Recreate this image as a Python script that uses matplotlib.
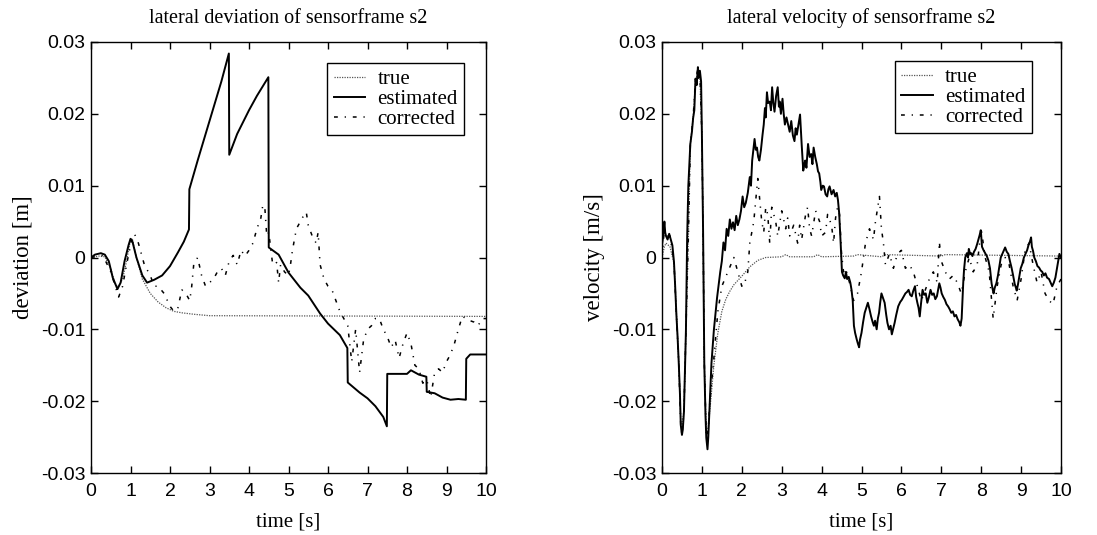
import matplotlib
matplotlib.use("Agg")
import matplotlib.pyplot as plt

# ---------------- data: lateral deviation ----------------
t_dev_true = [0, 0.2, 0.35, 0.5, 0.6, 0.68, 0.8, 0.9, 1.0, 1.05, 1.15, 1.3, 1.5, 1.7,
              1.9, 2.1, 2.3, 2.6, 3.0, 10]
dev_true = [0, 0.0002, 0.0001, -0.0015, -0.0035, -0.0042, -0.003, -0.0005, 0.0025, 0.0025,
            0.0, -0.0030, -0.0050, -0.0062, -0.0070, -0.0075, -0.0077, -0.0079, -0.0081, -0.0082]

t_dev_est = [0, 0.1, 0.25, 0.35, 0.45, 0.55, 0.67, 0.75, 0.85, 0.95, 1.0, 1.05, 1.15, 1.3,
             1.42, 1.6, 1.8, 2.0, 2.2, 2.35, 2.48, 2.49, 2.7, 3.0, 3.3, 3.49, 3.5, 3.7,
             4.0, 4.2, 4.49, 4.5, 4.6, 4.75, 5.0, 5.3, 5.5, 5.8, 6.0, 6.3, 6.49, 6.5,
             6.8, 7.0, 7.2, 7.4, 7.49, 7.5, 8.0, 8.1, 8.3, 8.49, 8.5, 8.7, 8.9, 9.1,
             9.3, 9.49, 9.5, 9.6, 10]
dev_est = [0, 0.0004, 0.0006, 0.0004, -0.0005, -0.0028, -0.0044, -0.0035, -0.0005, 0.0017,
           0.0026, 0.0022, 0.0, -0.0025, -0.0035, -0.0031, -0.0025, -0.0012, 0.0007, 0.0022,
           0.0039, 0.0095, 0.0135, 0.019, 0.0245, 0.0284, 0.0143, 0.0172, 0.0205, 0.0225,
           0.0251, 0.0014, 0.0010, 0.0004, -0.0021, -0.0042, -0.0053, -0.0078, -0.0092,
           -0.0108, -0.0126, -0.0174, -0.0188, -0.0196, -0.0207, -0.0222, -0.0235, -0.0162,
           -0.0162, -0.0157, -0.0163, -0.0166, -0.0187, -0.0189, -0.0195, -0.0198, -0.0197,
           -0.0198, -0.0141, -0.0135, -0.0135]

t_dev_cor = [0, 0.3, 0.5, 0.7, 0.8, 0.9, 1.05, 1.1, 1.2, 1.35, 1.5, 1.6, 1.7, 1.85, 2.0,
             2.1, 2.2, 2.3, 2.4, 2.5, 2.55, 2.6, 2.7, 2.8, 2.9, 3.0, 3.1, 3.2, 3.3, 3.4,
             3.5, 3.6, 3.7, 3.8, 3.9, 4.0, 4.1, 4.2, 4.3, 4.35, 4.4, 4.45, 4.5, 4.6, 4.7,
             4.75, 4.8, 4.9, 5.0, 5.05, 5.1, 5.2, 5.3, 5.4, 5.45, 5.5, 5.6, 5.7, 5.75,
             5.8, 5.9, 6.0, 6.1, 6.2, 6.3, 6.4, 6.5, 6.6, 6.7, 6.8, 6.9, 7.0, 7.1, 7.2,
             7.3, 7.4, 7.5, 7.6, 7.7, 7.8, 7.9, 8.0, 8.1, 8.2, 8.3, 8.4, 8.5, 8.6, 8.7,
             8.8, 8.9, 9.0, 9.1, 9.2, 9.3, 9.4, 9.5, 9.6, 9.7, 9.8, 9.9, 10]
dev_cor = [0, 0.0003, -0.002, -0.0055, -0.004, -0.001, 0.003, 0.0033, 0.002, -0.001,
           -0.0025, -0.004, -0.004, -0.005, -0.0068, -0.0075, -0.007, -0.0045, -0.005,
           -0.006, -0.004, -0.001, 0.0, -0.0025, -0.004, -0.0035, -0.003, -0.002, -0.0015,
           -0.0025, -0.0005, 0.0003, -0.001, 0.001, 0.0002, 0.001, 0.002, 0.004, 0.0055,
           0.0073, 0.007, 0.003, 0.0035, -0.001, -0.0007, -0.0035, -0.001, -0.002, -0.0025,
           -0.001, 0.001, 0.004, 0.005, 0.006, 0.0063, 0.0045, 0.003, 0.002, 0.0035, -0.001,
           -0.003, -0.004, -0.0045, -0.006, -0.0075, -0.0085, -0.0095, -0.0145, -0.010,
           -0.016, -0.0115, -0.010, -0.0095, -0.0085, -0.0085, -0.010, -0.011, -0.0125,
           -0.0115, -0.014, -0.012, -0.0105, -0.012, -0.015, -0.0155, -0.0175, -0.017,
           -0.0195, -0.016, -0.0155, -0.016, -0.0145, -0.0135, -0.012, -0.010, -0.0082,
           -0.0085, -0.0088, -0.009, -0.0095, -0.0085, -0.0085]

# ---------------- data: lateral velocity ----------------
t_vel_true = [0, 0.06, 0.1, 0.2, 0.3, 0.36, 0.42, 0.47, 0.5, 0.55, 0.6, 0.66, 0.71, 0.78,
              0.84, 0.9, 0.95, 1.0, 1.03, 1.06, 1.11, 1.16, 1.22, 1.3, 1.4, 1.5, 1.6, 1.7,
              1.8, 2.0, 2.2, 2.4, 2.6, 3.0, 3.1, 3.2, 3.8, 3.9, 4.0, 4.8, 4.9, 5.5, 5.6,
              7.0, 7.1, 10]
vel_true = [0, 0.0015, 0.002, 0.0015, -0.0008, -0.0075, -0.0145, -0.0228, -0.0242, -0.021,
            -0.0101, 0.0026, 0.0158, 0.0194, 0.0245, 0.0258, 0.0252, 0.0171, 0.0035,
            -0.0147, -0.0240, -0.0235, -0.0200, -0.0150, -0.0105, -0.0075, -0.0058,
            -0.0047, -0.0038, -0.0026, -0.0013, -0.0004, 0.0, 0.0001, 0.0004, 0.0001,
            0.0001, 0.0004, 0.0001, 0.0002, 0.0004, 0.0001, 0.0004, 0.0002, 0.0004, 0.0002]

t_vel_est = [0, 0.03, 0.06, 0.08, 0.1, 0.14, 0.18, 0.22, 0.26, 0.3, 0.33, 0.36, 0.39,
             0.42, 0.45, 0.47, 0.5, 0.52, 0.55, 0.6, 0.63, 0.66, 0.71, 0.75, 0.78, 0.81,
             0.84, 0.87, 0.9, 0.92, 0.95, 0.98, 1.0, 1.03, 1.06, 1.09, 1.11, 1.14, 1.16,
             1.19, 1.24, 1.3, 1.38, 1.46, 1.5, 1.54, 1.58, 1.62, 1.66, 1.7, 1.74, 1.78,
             1.82, 1.86, 1.9, 1.94, 1.98, 2.02, 2.06, 2.1, 2.15, 2.2, 2.23, 2.26, 2.29,
             2.32, 2.35, 2.38, 2.41, 2.44, 2.48, 2.52, 2.55, 2.58, 2.6, 2.63, 2.66, 2.7,
             2.73, 2.76, 2.79, 2.82, 2.86, 2.9, 2.93, 2.95, 2.98, 3.02, 3.05, 3.08, 3.12,
             3.16, 3.2, 3.24, 3.28, 3.32, 3.35, 3.38, 3.42, 3.46, 3.5, 3.54, 3.57, 3.59,
             3.62, 3.66, 3.7, 3.74, 3.77, 3.8, 3.84, 3.88, 3.91, 3.94, 3.97, 3.99, 4.03,
             4.06, 4.1, 4.14, 4.17, 4.2, 4.25, 4.3, 4.34, 4.38, 4.41, 4.44, 4.46, 4.48,
             4.51, 4.54, 4.58, 4.61, 4.64, 4.68, 4.72, 4.75, 4.78, 4.81, 4.84, 4.88, 4.91,
             4.94, 4.96, 5.0, 5.04, 5.08, 5.12, 5.16, 5.2, 5.24, 5.28, 5.31, 5.34, 5.38,
             5.41, 5.44, 5.47, 5.5, 5.53, 5.58, 5.62, 5.65, 5.69, 5.73, 5.76, 5.79, 5.83,
             5.87, 5.92, 5.97, 6.01, 6.05, 6.1, 6.14, 6.18, 6.22, 6.26, 6.3, 6.34, 6.37,
             6.4, 6.43, 6.46, 6.49, 6.53, 6.57, 6.61, 6.65, 6.69, 6.73, 6.77, 6.81, 6.85,
             6.89, 6.92, 6.95, 6.98, 7.01, 7.05, 7.09, 7.13, 7.17, 7.21, 7.25, 7.29, 7.33,
             7.37, 7.41, 7.45, 7.48, 7.51, 7.53, 7.55, 7.57, 7.6, 7.64, 7.67, 7.69, 7.72,
             7.75, 7.78, 7.82, 7.86, 7.9, 7.93, 7.96, 7.99, 8.02, 8.06, 8.1, 8.14, 8.18,
             8.22, 8.26, 8.29, 8.31, 8.34, 8.38, 8.42, 8.45, 8.49, 8.53, 8.57, 8.6, 8.64,
             8.68, 8.72, 8.76, 8.8, 8.84, 8.87, 8.89, 8.92, 8.95, 8.99, 9.03, 9.07, 9.11,
             9.15, 9.19, 9.22, 9.25, 9.27, 9.3, 9.33, 9.37, 9.41, 9.45, 9.49, 9.53, 9.57,
             9.61, 9.65, 9.7, 9.74, 9.78, 9.82, 9.86, 9.9, 9.93, 9.96, 10]
vel_est = [0.0017, 0.003, 0.005, 0.0035, 0.003, 0.0025, 0.0033, 0.0025, 0.0017, -0.0006,
           -0.004, -0.0079, -0.011, -0.0147, -0.019, -0.0233, -0.0247, -0.0240, -0.0215,
           -0.0101, 0.0026, 0.0100, 0.0158, 0.0175, 0.0194, 0.0205, 0.0249, 0.0240, 0.0265,
           0.0250, 0.0260, 0.0245, 0.0171, 0.0035, -0.0147, -0.0220, -0.0251, -0.0267,
           -0.0250, -0.0212, -0.0147, -0.0101, -0.0056, -0.0020, -0.0005, 0.0021, 0.0010,
           0.0040, 0.0030, 0.0053, 0.0040, 0.0049, 0.0038, 0.0058, 0.0045, 0.0053, 0.0065,
           0.0085, 0.0070, 0.0076, 0.0090, 0.0112, 0.0100, 0.0135, 0.0150, 0.0165, 0.0150,
           0.0153, 0.0140, 0.0135, 0.0150, 0.0171, 0.0185, 0.0208, 0.0195, 0.0230, 0.0215,
           0.0217, 0.0205, 0.0237, 0.0215, 0.0203, 0.0225, 0.0237, 0.0210, 0.0217, 0.0200,
           0.0221, 0.0200, 0.0185, 0.0195, 0.0185, 0.0175, 0.0190, 0.0170, 0.0162, 0.0180,
           0.0171, 0.0185, 0.0199, 0.0158, 0.0121, 0.0130, 0.0135, 0.0125, 0.0158, 0.0140,
           0.0144, 0.0130, 0.0153, 0.0140, 0.0130, 0.0120, 0.0117, 0.0105, 0.0094, 0.0100,
           0.0099, 0.0088, 0.0085, 0.0095, 0.0099, 0.0088, 0.0094, 0.0085, 0.0090, 0.0080,
           0.0062, 0.0040, 0.0017, -0.0020, -0.0025, -0.0029, -0.0020, -0.0030, -0.0027,
           -0.0035, -0.0045, -0.0060, -0.0095, -0.0105, -0.0114, -0.0120, -0.0125, -0.0115,
           -0.0105, -0.0090, -0.0077, -0.0070, -0.0063, -0.0072, -0.0082, -0.0090, -0.0095,
           -0.0088, -0.0100, -0.0085, -0.0077, -0.0062, -0.0050, -0.0055, -0.0063, -0.0080,
           -0.0091, -0.0100, -0.0095, -0.0107, -0.0100, -0.0091, -0.0080, -0.0068, -0.0062,
           -0.0059, -0.0055, -0.0050, -0.0048, -0.0045, -0.0052, -0.0054, -0.0046, -0.0040,
           -0.0055, -0.0063, -0.0070, -0.0082, -0.0065, -0.0045, -0.0052, -0.0050, -0.0063,
           -0.0055, -0.0045, -0.0052, -0.0050, -0.0058, -0.0054, -0.0045, -0.0036, -0.0042,
           -0.0050, -0.0055, -0.0059, -0.0065, -0.0068, -0.0072, -0.0077, -0.0075, -0.0082,
           -0.0080, -0.0086, -0.0090, -0.0095, -0.0085, -0.0059, -0.0035, -0.0017, 0.0,
           0.0006, 0.0000, 0.0012, 0.0005, 0.0006, 0.0002, 0.0008, 0.0012, 0.0019, 0.0025,
           0.0031, 0.0038, 0.0015, 0.0010, 0.0006, 0.0002, -0.0004, -0.0015, -0.0036,
           -0.0045, -0.0050, -0.0042, -0.0036, -0.0025, -0.0014, 0.0000, 0.0005, 0.0010,
           0.0014, 0.0008, 0.0005, -0.0005, -0.0014, -0.0025, -0.0037, -0.0042, -0.0046,
           -0.0038, -0.0028, -0.0015, -0.0009, 0.0000, 0.0005, 0.0010, 0.0018, 0.0022,
           0.0028, 0.0015, 0.0009, 0.0000, -0.0005, -0.0012, -0.0014, -0.0018, -0.0020,
           -0.0025, -0.0022, -0.0028, -0.0030, -0.0035, -0.0040, -0.0035, -0.0028, -0.0015,
           -0.0005, 0.0005, 0.0000]

t_vel_cor = [0, 0.06, 0.1, 0.2, 0.3, 0.36, 0.42, 0.47, 0.5, 0.55, 0.6, 0.66, 0.71, 0.78,
             0.84, 0.9, 0.95, 1.0, 1.03, 1.06, 1.11, 1.16, 1.2, 1.3, 1.4, 1.5, 1.65, 1.8,
             1.9, 2.0, 2.05, 2.15, 2.2, 2.3, 2.4, 2.45, 2.5, 2.55, 2.6, 2.65, 2.7, 2.75,
             2.85, 2.9, 3.0, 3.1, 3.15, 3.2, 3.3, 3.4, 3.45, 3.5, 3.6, 3.65, 3.7, 3.75,
             3.85, 3.95, 4.0, 4.1, 4.15, 4.25, 4.3, 4.35, 4.4, 4.45, 4.5, 4.55, 4.6, 4.7,
             4.8, 4.9, 5.0, 5.1, 5.2, 5.3, 5.35, 5.45, 5.5, 5.55, 5.6, 5.7, 5.8, 5.9, 6.0,
             6.1, 6.2, 6.3, 6.4, 6.5, 6.6, 6.7, 6.8, 6.9, 6.95, 7.0, 7.1, 7.2, 7.3, 7.4,
             7.5, 7.6, 7.7, 7.8, 7.9, 8.0, 8.1, 8.2, 8.3, 8.4, 8.5, 8.6, 8.7, 8.8, 8.9,
             9.0, 9.1, 9.2, 9.3, 9.4, 9.5, 9.6, 9.7, 9.8, 9.9, 10]
vel_cor = [0, 0.004, 0.003, 0.003, -0.0006, -0.0079, -0.0147, -0.0233, -0.0247, -0.0215,
           -0.0101, 0.0026, 0.0158, 0.0194, 0.0249, 0.0262, 0.0255, 0.0171, 0.0035, -0.0147,
           -0.0250, -0.0240, -0.0200, -0.0140, -0.0075, -0.0040, -0.0020, 0.0, -0.0020,
           -0.0040, -0.0040, -0.0020, 0.0020, 0.0050, 0.0110, 0.0080, 0.0050, 0.0035, 0.0070,
           0.0060, 0.0020, 0.0070, 0.0050, 0.0030, 0.0065, 0.0040, 0.0055, 0.0030, 0.0045,
           0.0020, 0.0045, 0.0025, 0.0060, 0.0070, 0.0040, 0.0030, 0.0065, 0.0050, 0.0030,
           0.0035, 0.0060, 0.0045, 0.0020, 0.0055, 0.0070, 0.0060, 0.0005, -0.0020, -0.0015,
           -0.0035, -0.0060, -0.0050, -0.0020, 0.0020, 0.0040, 0.0025, 0.0050, 0.0085,
           0.0040, 0.0020, -0.0010, 0.0005, -0.0015, 0.0005, 0.0010, -0.0015, -0.0010,
           -0.0020, -0.0040, -0.0060, -0.0045, -0.0030, -0.0020, -0.0035, 0.0022, -0.0005,
           -0.0020, -0.0030, -0.0025, -0.0035, -0.0050, -0.0020, 0.0, -0.0020, -0.0010,
           0.0040, 0.0, -0.0020, -0.0085, -0.0040, -0.0010, 0.0, -0.0010, -0.0040, -0.0060,
           -0.0030, 0.0010, 0.0020, -0.0010, -0.0035, -0.0020, -0.0050, -0.0060, -0.0065,
           -0.0040, -0.0030]

x_ticks = [0, 1, 2, 3, 4, 5, 6, 7, 8, 9, 10]
y_ticks = [-0.03, -0.02, -0.01, 0, 0.01, 0.02, 0.03]
y_ticklabels = ["-0.03", "-0.02", "-0.01", "0", "0.01", "0.02", "0.03"]

# ---------------- drawing ----------------
SERIF = "Liberation Serif"
SANS = "Liberation Sans"

fig = plt.figure(figsize=(10.97, 5.35), dpi=100)
ax1 = fig.add_axes([91 / 1097, 62 / 535, 395 / 1097, 431 / 535])
ax2 = fig.add_axes([662 / 1097, 62 / 535, 399 / 1097, 431 / 535])

true_style = dict(color="#555555", lw=0.9, ls=(0, (1, 1)))
est_style = dict(color="black", lw=1.4, ls="-")
cor_style = dict(color="black", lw=1.1, ls=(0, (2.5, 4.5, 0.8, 4.5)))


def setup(ax, title, ylabel):
    ax.set_xlim(0, 10)
    ax.set_ylim(-0.03, 0.03)
    ax.set_xticks(x_ticks)
    ax.set_yticks(y_ticks)
    ax.set_yticklabels(y_ticklabels)
    ax.tick_params(axis="both", direction="in", length=5, width=1, top=True,
                   right=True, labelsize=14)
    ax.tick_params(axis="x", pad=7)
    ax.tick_params(axis="y", pad=4)
    for lab in ax.get_xticklabels() + ax.get_yticklabels():
        lab.set_fontfamily(SANS)
    for sp in ax.spines.values():
        sp.set_linewidth(1.0)
    ax.set_title(title, fontfamily=SERIF, fontsize=14.5, pad=14)
    ax.set_xlabel("time [s]", fontfamily=SERIF, fontsize=15, labelpad=9)
    ax.set_ylabel(ylabel, fontfamily=SERIF, fontsize=16.5, labelpad=5)


ax1.plot(t_dev_true, dev_true, label="true", **true_style)
ax1.plot(t_dev_est, dev_est, label="estimated", **est_style)
ax1.plot(t_dev_cor, dev_cor, label="corrected", **cor_style)
setup(ax1, "lateral deviation of sensorframe s2", "deviation [m]")

ax2.plot(t_vel_true, vel_true, label="true", **true_style)
ax2.plot(t_vel_est, vel_est, label="estimated", **est_style)
ax2.plot(t_vel_cor, vel_cor, label="corrected", **cor_style)
setup(ax2, "lateral velocity of sensorframe s2", "velocity [m/s]")

for ax, anchor in ((ax1, (0.944, 0.951)), (ax2, (0.927, 0.956))):
    leg = ax.legend(loc="upper right", bbox_to_anchor=anchor, frameon=True,
                    fancybox=False, framealpha=1, edgecolor="black",
                    prop={"family": SERIF, "size": 15}, handlelength=1.5,
                    handletextpad=0.6, labelspacing=0.02, borderpad=0.3,
                    borderaxespad=0)
    leg.get_frame().set_linewidth(1.0)

fig.savefig("out.png", dpi=100)
